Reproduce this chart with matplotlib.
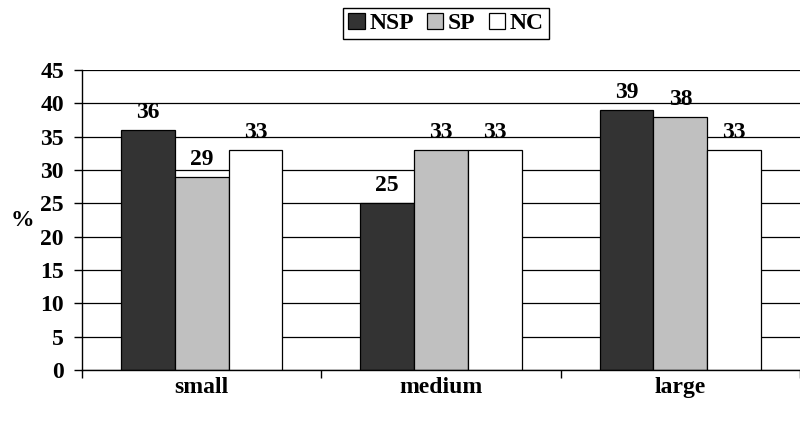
import matplotlib.pyplot as plt
import numpy as np

plt.rcParams['font.family'] = ['Liberation Serif', 'DejaVu Serif']
plt.rcParams['font.weight'] = 'bold'

sizes = ['small', 'medium', 'large']
series = ['NSP', 'SP', 'NC']
nsp = [36, 25, 39]
sp = [29, 33, 38]
nc = [33, 33, 33]
colors = ['#333333', '#c0c0c0', '#ffffff']
yticks = list(range(0, 50, 5))

fs = 17

fig = plt.figure(figsize=(8, 4.23), dpi=100)
ax = fig.add_axes([82 / 800, 53 / 423, 718 / 800, 300 / 423])

x = np.arange(len(sizes))
w = 0.225
for i, (vals, name, col) in enumerate(zip([nsp, sp, nc], series, colors)):
    pos = x + (i - 1) * w
    ax.bar(pos, vals, width=w, color=col, edgecolor='black', linewidth=0.9,
           label=name, zorder=3)
    for px, v in zip(pos, vals):
        ax.annotate(f'{v}', (px, v), xytext=(0, 5), textcoords='offset points',
                    ha='center', va='bottom', fontsize=fs, fontweight='bold')

ax.set_ylim(0, 45)
ax.set_xlim(-0.5, 2.47)
ax.set_yticks(yticks)
ax.yaxis.grid(True, color='black', linewidth=0.9, zorder=0)
ax.set_axisbelow(True)

# ticks sit on the category boundaries, labels at the centres
ax.set_xticks([-0.5, 0.5, 1.5, 2.5])
ax.set_xticklabels([])
ax.set_xticks(x, minor=True)
ax.set_xticklabels(sizes, minor=True, fontsize=fs, fontweight='bold')
ax.tick_params(axis='x', which='minor', length=0, pad=5)
ax.tick_params(axis='x', which='major', length=6, width=1, direction='out')
ax.tick_params(axis='y', length=6, width=1, direction='out', labelsize=fs, pad=7)
for lab in ax.get_yticklabels():
    lab.set_fontweight('bold')

for s in ['top', 'right']:
    ax.spines[s].set_visible(False)
for s in ['left', 'bottom']:
    ax.spines[s].set_linewidth(1)
    ax.spines[s].set_zorder(4)

ax.set_ylabel('%', rotation=0, fontsize=fs, fontweight='bold', labelpad=13, va='center')

leg = fig.legend(loc='upper center', bbox_to_anchor=(446 / 800, 1 - 8 / 423), ncol=3,
                 frameon=True, fancybox=False, edgecolor='black', framealpha=1,
                 handlelength=0.7, handleheight=0.7, handletextpad=0.2,
                 columnspacing=0.55, borderpad=0.2, borderaxespad=0,
                 prop={'size': fs, 'weight': 'bold'})
leg.get_frame().set_linewidth(1)

fig.savefig('out.png', dpi=100)
